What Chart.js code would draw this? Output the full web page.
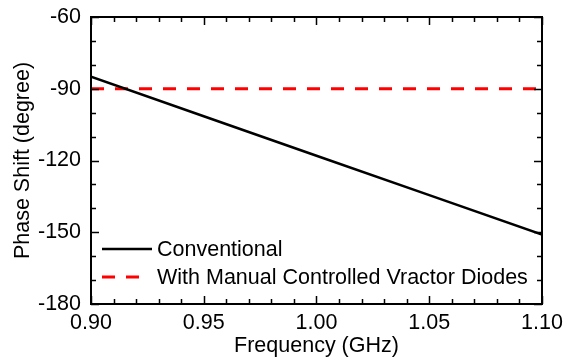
<!DOCTYPE html>
<html lang="en">
<head>
    <meta charset="UTF-8">
    <title>Phase Shift vs Frequency</title>
    <script src="https://cdn.jsdelivr.net/npm/chart.js"></script>
    <style>
        body { margin: 0; padding: 0; background: #fff; }
        #wrap { width: 564px; height: 364px; }
    </style>
</head>
<body>
<div id="wrap"><canvas id="phaseChart" width="564" height="364"></canvas></div>
<script>
    // data
    const freq = [0.90, 0.95, 1.00, 1.05, 1.10];
    const conventional = [-85, -101.5, -118, -134.5, -151];
    const manual = [-90, -90, -90, -90, -90];
    const seriesNames = ['Conventional', 'With Manual Controlled Vractor Diodes'];
    const xTicks = [0.90, 0.95, 1.00, 1.05, 1.10];
    const yTicks = [-180, -150, -120, -90, -60];

    const FONT = 'Liberation Sans, Arial, sans-serif';
    const FSIZE = 21.5;

    // inward ticks, top/right frame and the in-plot legend
    const framePlugin = {
        id: 'frame',
        afterDatasetsDraw(chart) {
            const c = chart.ctx, a = chart.chartArea;
            const xs = chart.scales.x, ys = chart.scales.y;
            c.save();
            c.strokeStyle = '#000';
            c.lineWidth = 2;
            c.strokeRect(a.left, a.top, a.right - a.left, a.bottom - a.top);
            c.lineWidth = 1.5;
            c.beginPath();
            for (let v = 0.90; v <= 1.1001; v += 0.01) {
                const px = Math.round(xs.getPixelForValue(v)) + 0.5;
                const major = Math.abs(v * 20 - Math.round(v * 20)) < 1e-6;
                const len = major ? 8 : 5;
                c.moveTo(px, a.bottom); c.lineTo(px, a.bottom - len);
                c.moveTo(px, a.top); c.lineTo(px, a.top + len);
            }
            for (let v = -180; v <= -60; v += 10) {
                const py = Math.round(ys.getPixelForValue(v)) + 0.5;
                const len = (v % 30 === 0) ? 8 : 5;
                c.moveTo(a.left, py); c.lineTo(a.left + len, py);
                c.moveTo(a.right, py); c.lineTo(a.right - len, py);
            }
            c.stroke();

            // legend
            c.font = FSIZE + 'px ' + FONT;
            c.textBaseline = 'middle';
            c.fillStyle = '#000';
            chart.data.datasets.forEach((ds, i) => {
                const y = 249 + i * 28;
                c.strokeStyle = ds.borderColor;
                c.lineWidth = ds.borderWidth;
                c.setLineDash(ds.borderDash || []);
                c.beginPath();
                c.moveTo(102, y); c.lineTo(ds.borderDash ? 147 : 152, y);
                c.stroke();
                c.setLineDash([]);
                c.fillText(ds.label, 157, y + 1);
            });
            c.restore();
        }
    };

    new Chart(document.getElementById('phaseChart'), {
        type: 'line',
        data: {
            labels: freq,
            datasets: [
                {
                    label: seriesNames[0],
                    data: freq.map((f, i) => ({ x: f, y: conventional[i] })),
                    borderColor: '#000',
                    borderWidth: 2.5,
                    pointRadius: 0,
                    tension: 0
                },
                {
                    label: seriesNames[1],
                    data: freq.map((f, i) => ({ x: f, y: manual[i] })),
                    borderColor: '#ff0000',
                    borderWidth: 3,
                    borderDash: [13, 11],
                    pointRadius: 0,
                    tension: 0
                }
            ]
        },
        options: {
            responsive: false,
            animation: false,
            layout: { padding: { top: 17, right: 22, left: 0, bottom: 0 } },
            plugins: { legend: { display: false }, tooltip: { enabled: false } },
            scales: {
                x: {
                    type: 'linear',
                    min: 0.90, max: 1.10,
                    afterBuildTicks: s => { s.ticks = xTicks.map(v => ({ value: v })); },
                    afterFit: s => { s.height = 60; s.paddingLeft = 0; s.paddingRight = 0; },
                    grid: { display: false, drawTicks: false },
                    border: { display: false },
                    ticks: {
                        color: '#000',
                        font: { family: FONT, size: FSIZE },
                        padding: 6,
                        maxRotation: 0,
                        callback: v => v.toFixed(2)
                    },
                    title: {
                        display: true,
                        text: 'Frequency (GHz)',
                        color: '#000',
                        font: { family: FONT, size: FSIZE },
                        padding: { top: 0, bottom: 5 }
                    }
                },
                y: {
                    type: 'linear',
                    min: -180, max: -60,
                    afterBuildTicks: s => { s.ticks = yTicks.map(v => ({ value: v })); },
                    afterFit: s => { s.width = 91; s.paddingTop = 0; s.paddingBottom = 0; },
                    grid: { display: false, drawTicks: false },
                    border: { display: false },
                    ticks: {
                        color: '#000',
                        font: { family: FONT, size: FSIZE },
                        padding: 10
                    },
                    title: {
                        display: true,
                        text: 'Phase Shift (degree)',
                        color: '#000',
                        font: { family: FONT, size: FSIZE },
                        padding: { top: 10, bottom: 0 }
                    }
                }
            }
        },
        plugins: [framePlugin]
    });
</script>
</body>
</html>
